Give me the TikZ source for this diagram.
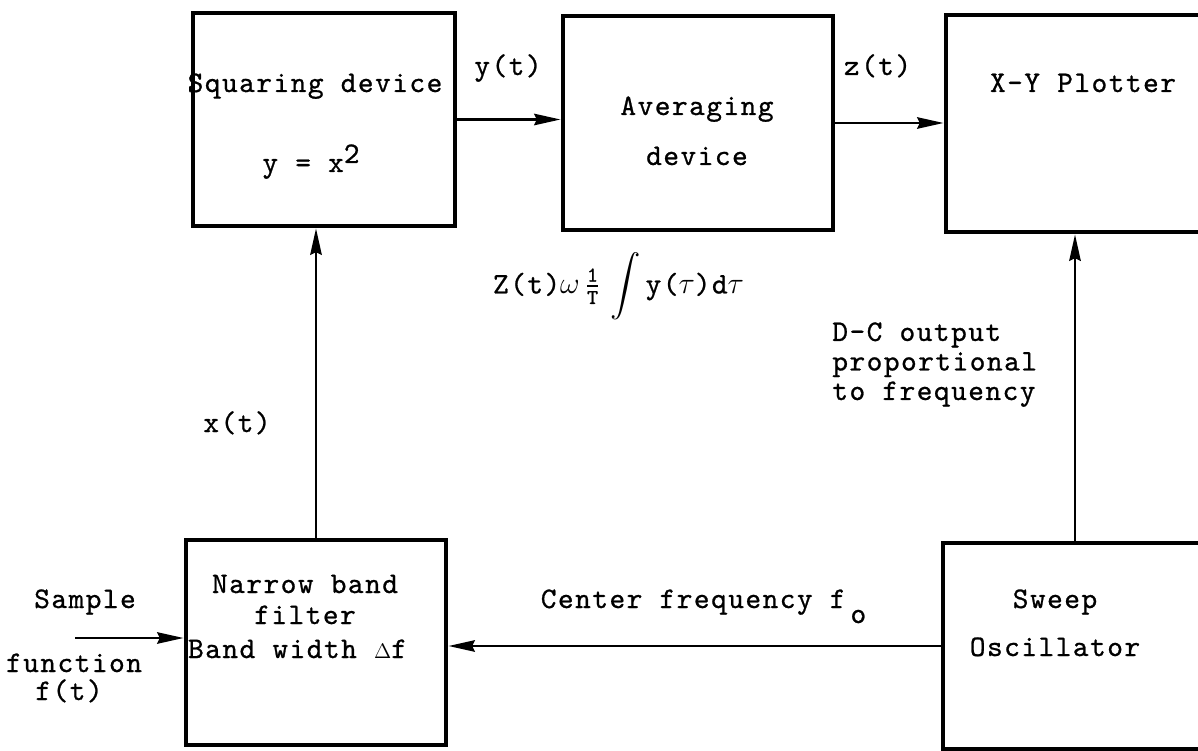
\documentclass[tikz,border=0pt]{standalone}
\usepackage{fontspec}
\usepackage{amsmath}
\usetikzlibrary{arrows.meta}
\usetikzlibrary{calc}

\newfontfamily\typewriter{lmmono10-regular.otf}[LetterSpace=5,FakeBold=0.8]
\newcommand{\smalltw}[1]{\mbox{\fontsize{12}{12}\selectfont\typewriter #1}}

\begin{document}
\begin{tikzpicture}[x=1mm, y=-1mm,
  block/.style={draw, line width=2.8pt, inner sep=0pt},
  lbl/.style={font=\fontsize{17}{20}\selectfont\typewriter, inner sep=0pt, align=center},
  flow/.style={line width=1.5pt, -{Stealth[length=15pt,width=6.5pt,inset=1.5pt]}}]

  \useasboundingbox (0,0) rectangle (239.6,150.2);
  \clip (0,0) rectangle (239.6,150.2);

  % the five blocks
  \node[block, minimum width=52.4mm, minimum height=42.6mm] (sq) at (64.8,23.9) {};
  \node[block, minimum width=54mm, minimum height=42.8mm] (av) at (139.6,24.6) {};
  \node[block, minimum width=64.8mm, minimum height=43.4mm] (xy) at (221.6,24.7) {};
  \node[block, minimum width=52mm, minimum height=41mm] (fl) at (63.2,128.5) {};
  \node[block, minimum width=65.4mm, minimum height=41.2mm] (sw) at (221.3,129.2) {};

  % block texts
  \node[lbl, anchor=base] (sqa) at (63,18.4) {Squaring device};
  \node[lbl, anchor=base] (sqb) at (62.2,34.4) {y = x\raisebox{1.8mm}{2}};
  \node[lbl, anchor=base] (ava) at (139.4,23) {Averaging};
  \node[lbl, anchor=base] (avb) at (139.4,33) {device};
  \node[lbl, anchor=base] (xya) at (216.6,18.4) {X-Y Plotter};
  \node[lbl, anchor=base] (fla) at (61,118.6) {Narrow band};
  \node[lbl, anchor=base] (flb) at (61,124.8) {filter};
  \node[lbl, anchor=base] (flc) at (59.5,131.6) {Band width {\fontsize{12}{12}\selectfont$\Delta$}f};
  \node[lbl, anchor=base] (swa) at (211,121.6) {Sweep};
  \node[lbl, anchor=base] (swb) at (211,131.2) {Oscillator};

  % signal labels
  \node[lbl, anchor=base] (ylab) at (101.6,15) {y(t)};
  \node[lbl, anchor=base] (zlab) at (175.5,15) {z(t)};
  \node[lbl, anchor=base] (avg) at (123.7,58.7)
    {Z(t)$\omega\,\frac{\smalltw{1}}{\smalltw{T}}\,\displaystyle\int$\,y($\tau$)d$\tau$};
  \node[lbl, anchor=base] (xlab) at (47.4,86.4) {x(t)};
  \node[lbl, anchor=north west, align=left, font=\fontsize{17}{16.8}\selectfont\typewriter]
    (dc) at (166.4,64.4) {D-C output\\proportional\\to frequency};
  \node[lbl, anchor=base] (cf) at (140.7,121.6) {Center frequency f\,\raisebox{-3mm}{o}};
  \node[lbl, anchor=base] (smp) at (17,121.6) {Sample};
  \node[lbl, anchor=base] (fn) at (14.8,134.4) {function};
  \node[lbl, anchor=base] (ft) at (13.8,140) {f(t)};

  % connections
  \coordinate (tap) at (215,0);
  \coordinate (in) at (15,127.6);
  \draw[flow] (sq.east) -- (sq.east -| av.west);
  \draw[flow] (av.east) -- (av.east -| xy.west);
  \draw[flow] (fl.north) -- (fl.north |- sq.south);
  \draw[flow] (sw.north -| tap) -- (xy.south -| tap);
  \draw[flow] (sw.west) -- (sw.west -| fl.east);
  \draw[flow] (in) -- (in -| fl.west);

\end{tikzpicture}
\end{document}
